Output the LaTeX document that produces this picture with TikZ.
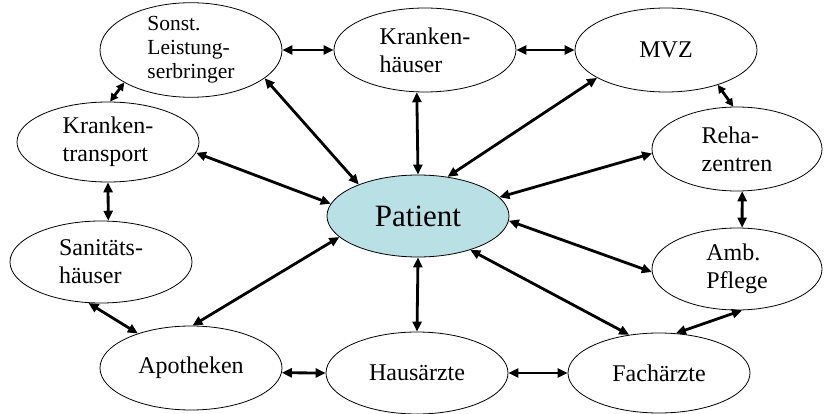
\documentclass[tikz,border=0pt]{standalone}
\usepackage{fontspec}
\setmainfont{Liberation Serif}
\usetikzlibrary{arrows.meta,shapes.geometric}

\definecolor{patfill}{RGB}{185,224,228}

\begin{document}
\begin{tikzpicture}[x=1pt, y=-1pt,
  partner/.style={draw, ellipse, line width=0.8pt, minimum width=182pt, minimum height=84pt, inner sep=0pt, align=left, font=\fontsize{24}{28}\selectfont},
  patbox/.style={partner, fill=patfill, minimum height=82pt, font=\fontsize{31}{36}\selectfont},
  arr/.style={{Triangle[length=10pt,width=9pt]}-{Triangle[length=10pt,width=9pt]}, line width=2.8pt},
  shortarr/.style={{Triangle[length=8pt,width=8pt]}-{Triangle[length=8pt,width=8pt]}, line width=2.8pt}]
  \useasboundingbox (0,0) rectangle (824,414);
  % Patient in the middle
  \node[patbox] (pat) at (418,216) {Patient};
  % Top row
  \node[partner, font=\fontsize{21.5}{24}\selectfont] (son) at (191,50) {Sonst.\\Leistung-\\serbringer};
  \node[partner] (kh) at (425,50) {Kranken-\\häuser};
  \node[partner] (mvz) at (666,50) {MVZ};
  % Left side
  \node[partner, minimum height=80pt] (kt) at (108,142) {Kranken-\\transport};
  \node[partner, minimum height=82pt] (san) at (101,262) {Sanitäts-\\häuser};
  % Right side
  \node[partner, minimum width=170pt] (reha) at (737,149) {Reha-\\zentren};
  \node[partner, minimum width=170pt, minimum height=82pt] (amb) at (737,269) {Amb.\\Pflege};
  % Bottom row
  \node[partner] (apo) at (191,368) {Apotheken};
  \node[partner, minimum height=82pt] (hau) at (417,373) {Hausärzte};
  \node[partner, minimum height=80pt] (fach) at (659,373) {Fachärzte};
  % Ring of partners
  \draw[arr] (son.east) -- (kh.west);
  \draw[arr] (kh.east) -- (mvz.west);
  \draw[shortarr] (mvz.-34) -- (reha.95);
  \draw[arr] (reha.-83) -- (amb.83);
  \draw[arr] (amb.-83) -- (fach.67);
  \draw[arr] (hau.east) -- (fach.west);
  \draw[arr] (apo.-3) -- (hau.west);
  \draw[arr] (san.253) -- (apo.147);
  \draw[arr] (kt.south) -- (san.80);
  \draw[shortarr] (son.206) -- (kt.87);
  % Patient to partners
  \draw[arr] (pat.152) -- (son.-21);
  \draw[arr] (pat.north) -- (kh.259);
  \draw[arr] (pat.53) -- (mvz.202);
  \draw[arr] (pat.13) -- (reha.183);
  \draw[arr] (pat.-3) -- (amb.182);
  \draw[arr] (pat.-33) -- (fach.128);
  \draw[arr] (pat.south) -- (hau.north);
  \draw[arr] (pat.195) -- (apo.88);
  \draw[arr] (pat.172) -- (kt.-7);
\end{tikzpicture}
\end{document}
